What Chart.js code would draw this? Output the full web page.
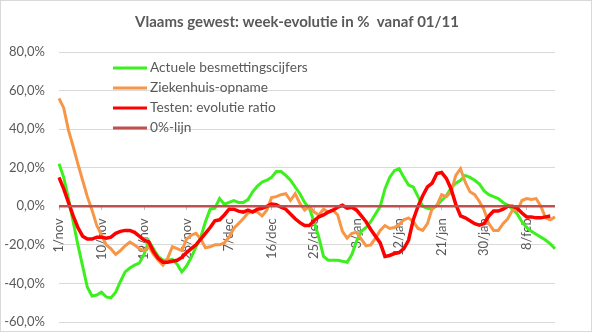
<!DOCTYPE html>
<html>
<head>
<meta charset="utf-8">
<script src="https://cdn.jsdelivr.net/npm/chart.js"></script>
<style>
  html, body { margin:0; padding:0; background:#fff; }
  #wrap { width:595px; height:333px; }
</style>
</head>
<body>
<div id="wrap"><canvas id="chartWeek" width="595" height="333"></canvas></div>
<script>
// --- week-evolutie Vlaams gewest, daily values from 1/nov ---
const titleText = 'Vlaams gewest: week-evolutie in %  vanaf 01/11';
const monthNames = ['jan','feb','mrt','apr','mei','jun','jul','aug','sep','okt','nov','dec'];
const firstDay = new Date(2020, 10, 1);
const dayCount = 106;
const labelEvery = 9;

const dayLabels = [];
for (let i = 0; i < dayCount; i++) {
  const d = new Date(firstDay.getFullYear(), firstDay.getMonth(), firstDay.getDate() + i);
  dayLabels.push(d.getDate() + '/' + monthNames[d.getMonth()]);
}

const seriesNames = ['Actuele besmettingscijfers', 'Ziekenhuis-opname', 'Testen: evolutie ratio', '0%-lijn'];

const besmettingen = [
  22, 15, 4, -8, -20, -31, -42, -46.5, -46, -44.5,
  -47, -47.5, -44.5, -39, -34, -32, -30.5, -29.5, -25, -18,
  -22, -26, -28, -28, -27.5, -30, -34, -31, -26.5, -21,
  -16, -8, -1.5, -1, 4, 1, 2, 3, 2, 2,
  3.5, 7.5, 10.5, 12.5, 13.5, 15, 18, 18, 16, 13.5,
  10, 6.5, 2, -1, -8, -16, -26, -28, -28, -28,
  -28.5, -29, -25, -18, -13, -11, -8, -4, 0, 9,
  15, 18.5, 19.5, 15, 11, 10, 5, 0, -1, -1.5,
  0.5, 3, 5.5, 9.5, 12, 13.5, 16, 15, 13.5, 11.5,
  8, 6, 5, 4, 2, 0.5, -1.5, -4, -8, -11,
  -13, -14.5, -16, -17.5, -19.5, -22
];

const ziekenhuis = [
  56, 51, 39.5, 31, 22, 13.5, 5, -2, -10, -15,
  -20, -22, -25, -23, -20.5, -18.5, -20, -22, -23, -21,
  -25, -28, -30.5, -27, -21, -22, -23, -17, -15, -14,
  -17, -21.5, -21, -20, -20, -19, -16, -11.5, -9, -6.5,
  -3.5, -2.5, -3, -5, -2, 4.5, 5, 6, 6.5, 3,
  6.5, 1.5, -2, 0, -3, -4.5, -1.5, -3, -2, -4.5,
  -13, -16.5, -14, -13.5, -17, -20.5, -20, -16.5, -12.5, -10,
  -11.5, -11, -9.5, -7, -6, -8, -11.5, -12.5, -9, -1,
  0.5, 6, 5, 7.5, 16, 19.5, 12.5, 7.5, 6, 2.5,
  -2, -9, -12.5, -12.5, -9, -6.5, -2, -2.5, 3, 4,
  3.5, 4, 0, -6, -7, -5.5
];

const testRatio = [
  15, 9, 2, -5, -11, -15.5, -17, -17, -16, -16,
  -16.5, -16, -14, -13, -12.5, -12.5, -13.5, -15.5, -17.5, -18.5,
  -23.5, -27, -29, -29, -28.5, -28, -26.5, -24, -22, -20,
  -17, -14, -11, -7.5, -7, -4.5, -1.5, -1.5, -2.5, -3,
  -2, -3, -1.5, -1, 0, 1.2, 0.8, -0.5, -1.5, -4,
  -6.5, -8.5, -10, -10, -7.5, -5.5, -4.5, -3, -2, -0.5,
  0.5, -1, -0.5, -2, -5, -8, -12, -15.5, -19, -26,
  -25.5, -24.5, -24, -22, -17.6, -7, 0, 5.5, 10, 12,
  17, 17.5, 14.5, 9, 1, -5, -6, -7.5, -9, -9.8,
  -9, -5, -2.5, -2.5, -1.5, 0, 0, -1, -3.5, -5.5,
  -5.5, -6, -6, -5.5, -5
];

const nulLijn = new Array(dayCount).fill(0);

const seriesColors = ['#3cf01e', '#f79646', '#ff0000', '#c0504d'];
const textColor = '#595959';
const fontFamily = 'Lato, "Noto Sans", sans-serif';

function pct(v) {
  return v.toFixed(1).replace('.', ',') + '%';
}

// no extra label padding around the plot, layout.padding decides
function noScalePadding(s) {
  s.paddingTop = 0;
  s.paddingBottom = 0;
  s.paddingLeft = 0;
  s.paddingRight = 0;
}

// chart frame + title
const frame = {
  id: 'frame',
  beforeDraw(chart) {
    const c = chart.ctx;
    c.save();
    c.fillStyle = '#fff';
    c.fillRect(0, 0, chart.width, chart.height);
    c.strokeStyle = '#d9d9d9';
    c.lineWidth = 1;
    c.strokeRect(0.5, 0.5, 591, 331);
    c.fillStyle = textColor;
    c.font = 'bold 15px ' + fontFamily;
    c.textAlign = 'center';
    c.textBaseline = 'middle';
    c.fillText(titleText, 297, 22);
    c.restore();
  }
};

// legend drawn inside the plot, top left
const innerLegend = {
  id: 'innerLegend',
  afterDraw(chart) {
    const c = chart.ctx;
    c.save();
    c.font = '13.7px ' + fontFamily;
    c.textBaseline = 'middle';
    c.textAlign = 'left';
    chart.data.datasets.forEach((ds, i) => {
      const y = 68 + i * 20;
      c.strokeStyle = ds.borderColor;
      c.lineWidth = 3;
      c.beginPath();
      c.moveTo(113, y);
      c.lineTo(147, y);
      c.stroke();
      c.fillStyle = textColor;
      c.fillText(ds.label, 150, y);
    });
    c.restore();
  }
};

function lineSet(i, data, width, order) {
  return {
    label: seriesNames[i],
    data: data,
    borderColor: seriesColors[i],
    backgroundColor: seriesColors[i],
    borderWidth: width,
    pointRadius: 0,
    tension: 0,
    fill: false,
    order: order
  };
}

const chartWeek = new Chart(document.getElementById('chartWeek').getContext('2d'), {
  type: 'line',
  data: {
    labels: dayLabels,
    datasets: [
      lineSet(0, besmettingen, 3, 3),
      lineSet(1, ziekenhuis, 3, 2),
      lineSet(2, testRatio, 3.5, 1),
      lineSet(3, nulLijn, 2.5, 0)
    ]
  },
  options: {
    responsive: false,
    animation: false,
    layout: { padding: { top: 52, right: 40, bottom: 11, left: 0 } },
    plugins: { legend: { display: false }, title: { display: false }, tooltip: { enabled: false } },
    scales: {
      x: {
        type: 'category',
        offset: false,
        position: { y: 0 },
        border: { display: false },
        afterFit: noScalePadding,
        grid: {
          drawOnChartArea: false,
          drawTicks: true,
          tickLength: 4,
          color: ctx => (ctx.index % labelEvery === 0 ? '#bfbfbf' : 'rgba(0,0,0,0)')
        },
        ticks: {
          autoSkip: false,
          minRotation: 90,
          maxRotation: 90,
          padding: 8,
          color: textColor,
          font: { family: fontFamily, size: 13 },
          callback: function (val, idx) {
            return idx % labelEvery === 0 ? this.getLabelForValue(val) : '';
          }
        }
      },
      y: {
        min: -60,
        max: 80,
        border: { display: false },
        grid: { color: '#d9d9d9', drawTicks: false },
        afterFit: s => { s.width = 59; noScalePadding(s); },
        ticks: {
          stepSize: 20,
          padding: 14,
          color: textColor,
          font: { family: fontFamily, size: 13 },
          callback: v => pct(v)
        }
      }
    }
  },
  plugins: [frame, innerLegend]
});
</script>
</body>
</html>
